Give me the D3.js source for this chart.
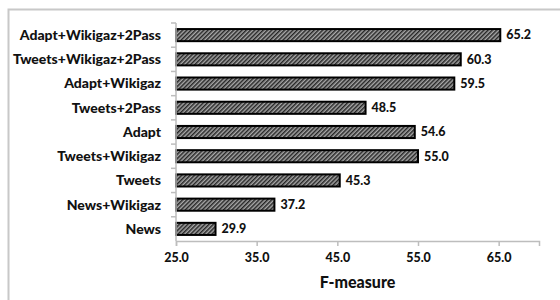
<!DOCTYPE html>
<html>
<head>
<meta charset="utf-8">
<script src="https://cdn.jsdelivr.net/npm/d3@7"></script>
<style>
body { margin: 0; background: #fff; }
svg { display: block; }
text { font-family: Lato, "Open Sans", sans-serif; font-weight: 900; fill: #111; }
</style>
</head>
<body>
<script>
var categories = ["Adapt+Wikigaz+2Pass", "Tweets+Wikigaz+2Pass", "Adapt+Wikigaz", "Tweets+2Pass",
	"Adapt", "Tweets+Wikigaz", "Tweets", "News+Wikigaz", "News"];
var values = [65.2, 60.3, 59.5, 48.5, 54.6, 55.0, 45.3, 37.2, 29.9];
var xTicks = [25, 35, 45, 55, 65];

var margin = {top: 23, right: 21, bottom: 59, left: 176},
	width = 560 - margin.left - margin.right,
	height = 300 - margin.top - margin.bottom;

var svg = d3.select("body").append("svg")
	.attr("width", 560)
	.attr("height", 300);

// hatch pattern
var defs = svg.append("defs");
var pat = defs.append("pattern")
	.attr("id", "hatch")
	.attr("patternUnits", "userSpaceOnUse")
	.attr("width", 3)
	.attr("height", 3)
	.attr("patternTransform", "rotate(45)");
pat.append("rect").attr("width", 3).attr("height", 3).attr("fill", "#a8a8a8");
pat.append("rect").attr("width", 1.5).attr("height", 3).attr("fill", "#262626");

// outer frame
svg.append("rect")
	.attr("x", 8.5).attr("y", 9.5)
	.attr("width", 600).attr("height", 400)
	.attr("fill", "none")
	.attr("stroke", "#c8c8c8")
	.attr("stroke-width", 2);

var g = svg.append("g")
	.attr("transform", "translate(" + margin.left + "," + margin.top + ")");

var x = d3.scaleLinear()
	.domain([25, 70])
	.range([0, width]);

var y = d3.scaleBand()
	.domain(categories)
	.range([0, height])
	.paddingInner(0.5)
	.paddingOuter(0.25);

var yb = d3.scaleBand()
	.domain(categories)
	.range([0, height]);

// bars
g.selectAll(".bar")
	.data(values)
	.enter().append("rect")
	.attr("class", "bar")
	.attr("x", x(25))
	.attr("y", (d, i) => y(categories[i]))
	.attr("width", d => x(d) - x(25))
	.attr("height", y.bandwidth())
	.attr("fill", "url(#hatch)")
	.attr("stroke", "#000")
	.attr("stroke-width", 2);

g.selectAll(".val")
	.data(values)
	.enter().append("text")
	.attr("class", "val")
	.attr("x", d => x(d) + 6)
	.attr("y", (d, i) => y(categories[i]) + y.bandwidth() / 2)
	.attr("dy", "0.35em")
	.style("font-size", "12.5px")
	.text(d => d.toFixed(1));

// x axis
var xAxis = g.append("g")
	.attr("transform", "translate(0," + height + ")")
	.call(d3.axisBottom(x).tickValues(xTicks).tickFormat(d3.format(".1f")).tickSize(5).tickPadding(7));
xAxis.select(".domain").attr("stroke", "#bdbdbd").attr("stroke-width", 1.5);
xAxis.selectAll(".tick line").attr("stroke", "#bdbdbd").attr("stroke-width", 1.5);
xAxis.selectAll("text").style("font-size", "12.5px").attr("fill", "#111")
	.style("font-family", "Lato, sans-serif").style("font-weight", "900");

// y axis: ticks at band edges
var yAxis = g.append("g");
yAxis.append("line")
	.attr("x1", 0).attr("x2", 0)
	.attr("y1", 0).attr("y2", height)
	.attr("stroke", "#bdbdbd").attr("stroke-width", 1.5);
yAxis.selectAll(".edge")
	.data(categories)
	.enter().append("line")
	.attr("x1", -5).attr("x2", 0)
	.attr("y1", d => yb(d)).attr("y2", d => yb(d))
	.attr("stroke", "#bdbdbd").attr("stroke-width", 1.5);
yAxis.selectAll(".lab")
	.data(categories)
	.enter().append("text")
	.attr("x", -15)
	.attr("y", d => yb(d) + yb.bandwidth() / 2)
	.attr("dy", "0.35em")
	.attr("text-anchor", "end")
	.style("font-size", "14px")
	.text(d => d);

// axis title
g.append("text")
	.attr("x", width / 2)
	.attr("y", height + 41)
	.attr("dy", "0.35em")
	.attr("text-anchor", "middle")
	.style("font-size", "16px")
	.text("F-measure");
</script>
</body>
</html>
